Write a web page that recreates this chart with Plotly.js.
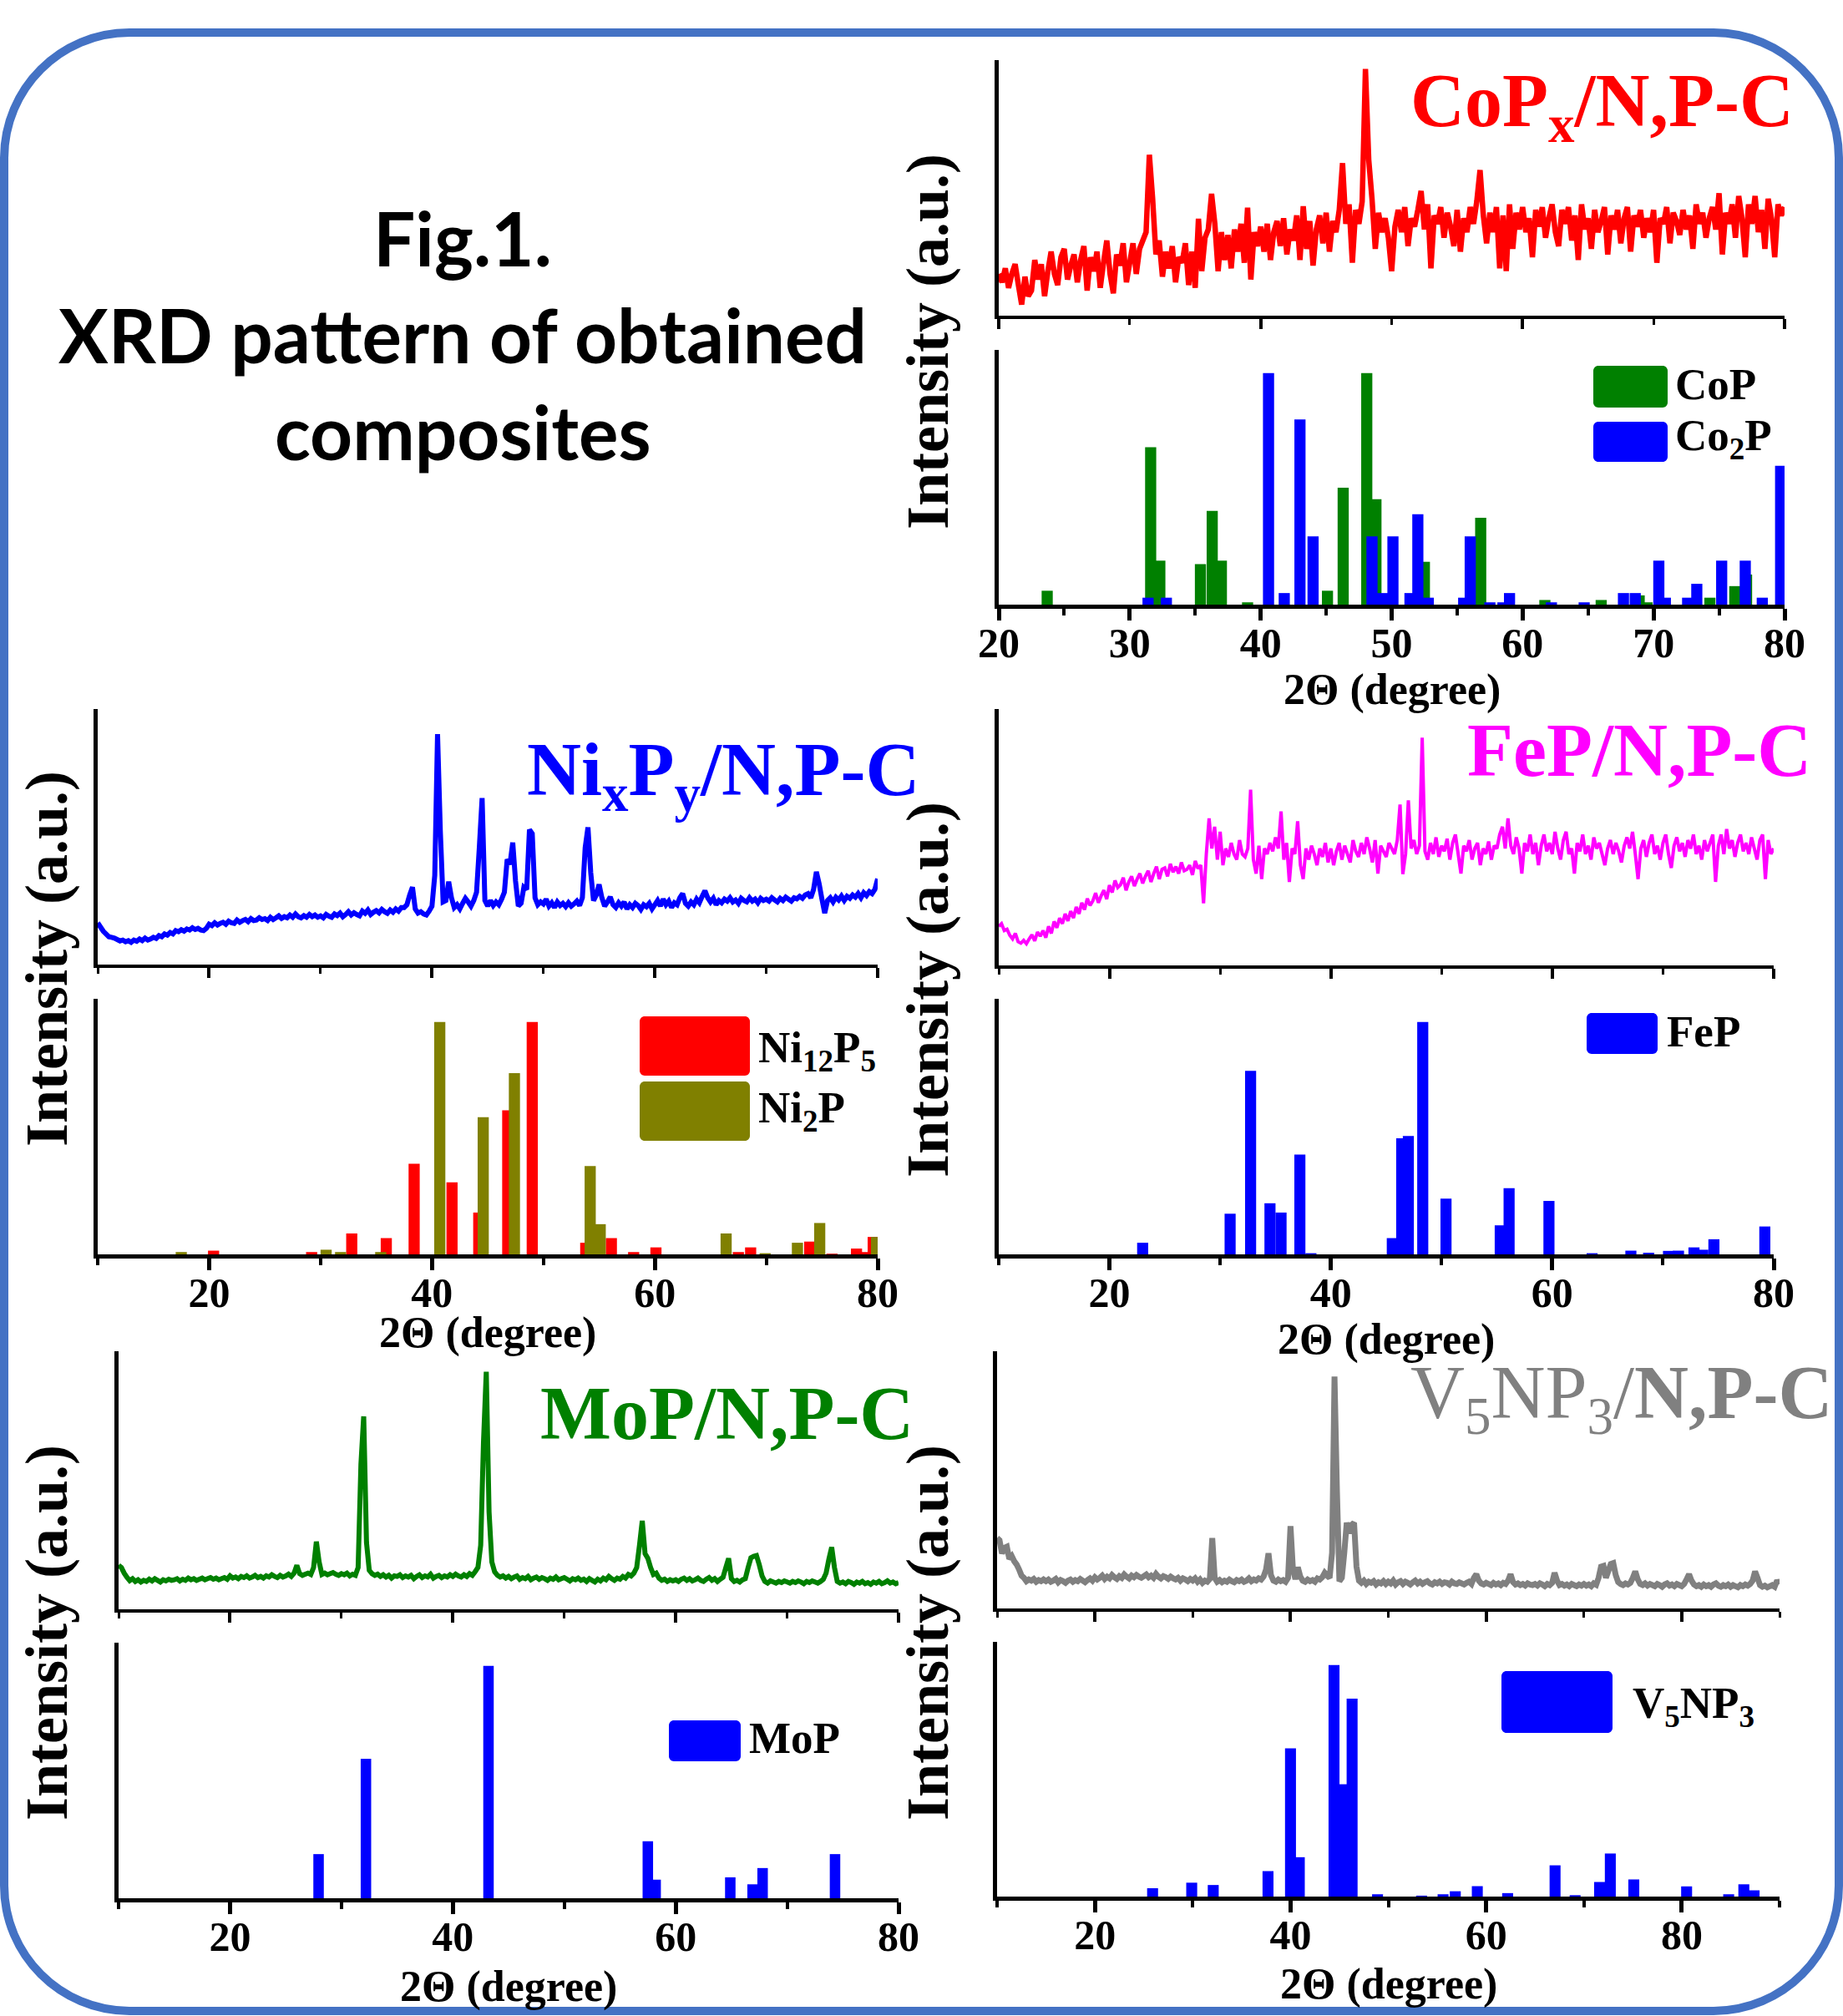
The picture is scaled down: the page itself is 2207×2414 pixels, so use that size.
<!DOCTYPE html>
<html>
<head>
<meta charset="utf-8">
<script src="https://cdn.plot.ly/plotly-3.0.1.min.js"></script>
<style>html,body{margin:0;padding:0;background:#fff;}</style>
</head>
<body>
<div id="chart" style="width:2207px;height:2414px;"></div>
<script>
// ---------------- DATA ----------------
// Measured XRD patterns: intensities (a.u.) sampled every 0.25 degree
const curve_step = 0.25;

const copx_start = 20;
const copx_intensity = [
 150,120,170,100,150,185,110,40,140,70,90,200,130,185,70,160,230,150,110,210,
 240,130,180,220,120,200,250,90,210,160,230,100,190,270,150,80,220,180,260,120,
 190,260,150,240,270,300,578,420,220,270,140,230,170,250,120,210,190,260,110,230,
 100,348,160,280,310,438,330,160,300,200,290,170,310,230,330,190,388,130,300,250,
 320,230,330,200,300,340,250,350,220,310,270,360,200,393,240,340,180,310,360,260,
 370,230,340,300,380,548,330,400,190,380,330,410,886,560,420,240,370,300,350,280,
 160,320,380,300,390,250,350,320,380,448,310,400,170,360,330,390,280,370,320,250,
 380,230,350,300,390,330,410,523,360,260,370,300,390,170,360,160,400,240,370,310,
 390,300,350,210,380,320,390,280,350,400,300,250,380,330,390,270,360,200,400,310,
 350,240,380,300,340,390,220,360,310,380,260,350,390,230,360,320,380,280,350,300,
 380,190,350,330,390,260,370,340,290,380,310,360,240,400,330,370,280,350,390,310,
 440,220,370,330,400,280,430,350,210,400,330,430,300,380,240,420,350,210,400,360,390
];

const nixpy_start = 10;
const nixpy_intensity = [
 150,135,120,110,100,98,95,90,85,88,82,86,80,88,84,92,86,95,88,92,
 98,94,104,100,110,106,115,110,122,118,125,120,128,124,132,126,130,124,122,130,
 145,140,150,142,148,152,145,156,150,148,160,152,158,162,154,165,158,160,168,162,
 165,158,170,162,168,175,166,172,168,178,170,182,172,168,176,170,180,172,178,170,
 175,168,180,174,170,182,176,185,172,180,190,178,186,180,175,192,184,196,180,188,
 194,186,198,190,184,196,188,200,192,205,205,215,250,278,200,185,190,182,178,192,
 210,320,828,480,225,230,298,240,205,215,200,220,238,225,210,230,260,420,598,230,
 210,230,212,225,215,235,260,378,360,438,300,210,220,278,270,485,470,240,215,225,
 218,235,210,222,205,225,212,220,208,222,210,218,228,212,240,420,493,330,230,250,
 288,240,210,225,243,215,205,222,210,225,200,215,205,220,212,198,215,208,220,200,
 215,230,210,235,215,228,205,222,215,240,255,220,210,225,215,235,222,245,265,240,
 225,238,215,230,222,235,228,240,225,232,220,238,230,225,240,228,235,222,238,230,
 235,228,240,232,225,238,230,242,235,228,240,236,245,238,250,255,240,270,333,290,
 235,185,230,240,225,242,232,246,230,245,238,250,242,255,240,258,248,262,255,270,308
];

const fep_start = 10;
const fep_intensity = [
 140,150,125,130,108,95,115,85,80,90,78,95,110,88,120,105,125,100,140,115,
 158,135,170,150,185,160,195,170,210,185,225,200,240,215,232,260,225,250,270,238,
 288,262,305,280,290,315,270,300,320,285,310,330,295,320,340,300,330,355,310,345,
 350,320,365,335,355,330,370,340,345,360,325,375,348,360,223,400,528,420,498,380,
 480,360,420,390,440,400,380,450,400,390,420,631,380,330,430,310,420,400,440,410,
 460,420,553,380,440,300,420,400,518,360,310,420,380,430,400,360,420,390,440,370,
 420,360,410,440,380,430,400,370,450,410,390,440,400,460,420,370,450,330,430,410,
 390,440,420,400,450,578,328,400,593,420,450,400,430,818,410,380,440,400,460,390,
 430,410,455,380,440,470,400,330,430,410,450,380,420,440,360,420,400,445,380,430,
 420,470,498,420,528,430,400,460,420,330,440,410,470,400,440,360,430,470,410,440,
 400,480,420,380,450,480,400,420,330,440,410,470,400,430,380,460,420,440,400,360,
 420,450,400,440,410,370,430,460,420,480,400,310,420,450,390,440,470,400,430,380,
 440,470,400,350,430,460,410,440,390,450,420,470,400,430,380,450,410,440,470,300,
 430,470,400,490,420,450,390,440,470,410,440,400,460,420,380,450,470,310,450,400,420
];

const mop_start = 10;
const mop_intensity = [
 158,150,130,115,103,110,100,106,98,104,100,108,102,110,104,98,106,102,108,104,
 106,110,102,108,104,112,106,110,104,108,112,106,110,114,108,112,106,110,114,108,
 120,112,116,110,118,114,120,112,116,122,114,118,112,120,116,124,118,114,122,116,
 120,126,118,130,158,128,122,126,130,125,150,243,170,125,130,124,128,132,126,122,
 128,124,130,120,126,122,150,520,693,240,140,128,122,126,118,124,116,122,112,120,
 118,124,114,120,116,122,110,118,124,114,120,116,126,112,118,122,114,120,116,124,
 118,126,120,116,124,118,128,122,135,150,230,600,853,350,170,135,122,116,120,112,
 118,110,116,120,108,114,110,118,106,112,116,108,114,110,104,112,108,116,106,110,
 114,108,102,110,106,112,104,108,100,110,104,98,108,102,112,106,118,110,104,112,
 108,118,112,125,120,130,150,230,318,200,183,150,125,130,112,104,108,100,106,102,
 106,100,108,112,104,110,102,106,112,104,100,108,114,104,110,100,108,115,150,183,
 110,100,104,98,106,110,150,185,190,193,160,120,100,94,102,98,94,100,96,102,
 98,94,100,96,102,98,92,100,96,102,98,94,100,108,130,180,223,150,100,94,
 98,92,100,96,90,98,94,100,92,96,90,98,94,100,92,96,102,94,98,92,96
];

const v5np3_start = 10;
const v5np3_intensity = [
 253,245,198,218,222,178,188,170,158,140,118,110,98,104,100,106,96,102,98,104,
 98,104,96,100,106,94,102,98,92,100,104,96,102,98,106,100,94,102,108,100,
 112,104,110,118,106,114,108,120,112,106,116,110,122,114,108,118,112,120,114,110,
 116,122,112,118,110,124,114,108,116,112,106,114,108,104,110,100,108,104,98,106,
 100,108,96,104,92,100,96,106,253,110,96,102,94,100,96,104,98,94,102,98,
 104,96,100,108,98,104,100,108,104,115,140,198,120,100,96,104,98,102,96,110,
 296,140,105,148,115,100,96,104,98,102,96,108,104,112,128,118,110,200,833,420,
 98,110,200,308,270,300,308,150,100,92,100,88,96,92,98,86,94,90,98,88,
 96,90,100,86,94,98,88,96,92,86,94,100,90,96,88,94,98,90,86,94,
 90,96,88,94,92,86,96,90,88,94,90,86,92,96,88,110,123,100,90,86,
 92,88,84,92,86,90,84,92,88,100,123,95,86,90,84,88,82,90,86,84,
 88,82,90,86,80,88,84,92,128,100,84,88,82,86,80,88,84,80,86,82,
 88,82,86,80,90,85,110,150,153,110,135,160,163,120,95,88,84,90,86,92,
 110,133,105,88,84,90,82,88,84,80,88,84,78,86,90,82,86,80,88,84,
 80,88,105,123,100,86,80,84,78,86,80,84,78,86,90,82,78,84,80,86,
 78,84,80,76,84,80,86,82,88,100,133,110,84,78,82,76,80,84,78,100,88
];

// Reference patterns: 2Theta positions and relative intensities
const cop_ref_pos = [23.7,31.6,32.3,35.4,36.3,37.0,39.0,45.1,46.3,48.1,48.8,52.5,56.8,61.7,66.0,68.9,69.5,74.3,76.2,77.1];
const cop_ref_int = [0.06,0.68,0.19,0.175,0.405,0.19,0.01,0.06,0.505,1.0,0.455,0.185,0.375,0.02,0.02,0.04,0.01,0.03,0.08,0.13];

const co2p_ref_pos = [31.4,32.8,40.6,41.8,43.0,44.0,48.5,49.3,50.1,51.4,52.0,52.8,55.5,56.0,57.5,58.5,59.0,62.2,64.7,67.7,68.6,70.4,70.9,72.6,73.3,75.2,77.0,78.3,79.7];
const co2p_ref_int = [0.03,0.03,1.0,0.05,0.80,0.295,0.295,0.05,0.295,0.05,0.39,0.03,0.03,0.295,0.01,0.01,0.05,0.01,0.01,0.05,0.05,0.19,0.03,0.03,0.09,0.19,0.19,0.03,0.6];

const ni12p5_ref_pos = [20.4,29.2,32.8,35.9,38.4,41.8,44.2,46.8,49.0,53.8,56.1,58.1,60.1,67.5,68.6,73.9,75.9,78.1,78.9,79.6];
const ni12p5_ref_int = [0.016,0.01,0.09,0.07,0.39,0.31,0.18,0.62,1.0,0.05,0.07,0.01,0.03,0.01,0.03,0.055,0.003,0.025,0.01,0.075];

const ni2p_ref_pos = [17.5,30.5,31.8,35.4,40.7,44.6,47.4,54.2,55.1,66.4,69.9,72.8,74.8,79.9];
const ni2p_ref_int = [0.01,0.02,0.01,0.01,1.0,0.59,0.78,0.38,0.13,0.09,0.005,0.05,0.135,0.075];

const fep_ref_pos = [23.0,30.9,32.75,34.5,35.5,37.2,38.2,45.55,46.4,47.0,48.3,50.4,55.3,56.1,59.7,63.6,67.1,68.7,70.5,71.4,72.8,73.6,74.6,79.2];
const fep_ref_int = [0.05,0.175,0.79,0.22,0.18,0.43,0.005,0.07,0.50,0.51,1.0,0.24,0.125,0.285,0.23,0.005,0.016,0.007,0.015,0.016,0.03,0.02,0.065,0.12];

const mop_ref_pos = [27.95,32.2,43.2,57.5,58.2,64.9,66.9,67.8,74.3];
const mop_ref_int = [0.19,0.60,1.0,0.245,0.08,0.09,0.06,0.13,0.19];

const v5np3_ref_pos = [25.9,29.9,32.1,37.7,40.0,40.9,44.45,45.35,46.3,48.9,53.4,55.6,56.85,59.1,62.2,67.05,69.1,71.6,72.7,75.1,80.5,84.8,86.35,87.4];
const v5np3_ref_int = [0.036,0.06,0.05,0.11,0.64,0.17,1.0,0.485,0.855,0.01,0.004,0.01,0.023,0.045,0.015,0.135,0.006,0.063,0.186,0.074,0.044,0.01,0.053,0.027];

// Text
const panel_titles = ['CoP<sub>x</sub>/N,P-C','Ni<sub>x</sub>P<sub>y</sub>/N,P-C','FeP/N,P-C','MoP/N,P-C','V<sub>5</sub>NP<sub>3</sub>/<b>N,P-C</b>'];
const x_title = '2\u0398 (degree)';
const y_title = 'Intensity (a.u.)';
const fig_title_lines = ['Fig.1.','XRD pattern of obtained','composites'];

// ---------------- LAYOUT / STYLE ----------------
const W = 2207, H = 2414;
const PX = v => v / W;
const PY = v => 1 - v / H;
const SERIF = 'Liberation Serif';

const panels = [
  {x:[1196,2137], top:[72,378],   bot:[419,724],   range:[20,80], botDtick:10, botMinor:5,  curve:copx_intensity,  start:copx_start,  color:'#FF0000', lw:6.5,
   title:{x:1687,y:128,color:'#FF0000',bold:true}, xt:826},
  {x:[117,1051],  top:[849,1155], bot:[1196,1502], range:[10,80], botDtick:20, botMinor:10, curve:nixpy_intensity, start:nixpy_start, color:'#0000FF', lw:6,
   title:{x:629,y:928,color:'#0000FF',bold:true}, xt:1596},
  {x:[1196,2124], top:[849,1156], bot:[1196,1502], range:[10,80], botDtick:20, botMinor:10, curve:fep_intensity,   start:fep_start,   color:'#FF00FF', lw:4,
   title:{x:1755,y:898,color:'#FF00FF',bold:true}, xt:1604},
  {x:[142,1076],  top:[1618,1927],bot:[1967,2273], range:[10,80], botDtick:20, botMinor:10, curve:mop_intensity,   start:mop_start,   color:'#008000', lw:6,
   title:{x:645,y:1692,color:'#008000',bold:true}, xt:2379},
  {x:[1194,2131], top:[1618,1926],bot:[1966,2271], range:[10,90], botDtick:20, botMinor:10, curve:v5np3_intensity, start:v5np3_start, color:'#808080', lw:7,
   title:{x:1687,y:1674,color:'#808080',bold:false}, xt:2376}
];

const refSets = [
  [{pos:cop_ref_pos, val:cop_ref_int, color:'#008000', w:0.85},{pos:co2p_ref_pos, val:co2p_ref_int, color:'#0000FF', w:0.85}],
  [{pos:ni12p5_ref_pos, val:ni12p5_ref_int, color:'#FF0000', w:1.0},{pos:ni2p_ref_pos, val:ni2p_ref_int, color:'#808000', w:1.0}],
  [{pos:fep_ref_pos, val:fep_ref_int, color:'#0000FF', w:1.0}],
  [{pos:mop_ref_pos, val:mop_ref_int, color:'#0000FF', w:0.94}],
  [{pos:v5np3_ref_pos, val:v5np3_ref_int, color:'#0000FF', w:1.12}]
];

const tickFont = {family:SERIF, size:50, color:'#000', weight:'bold'};
const traces = [];
const layout = {
  width:W, height:H, margin:{l:0,r:0,t:0,b:0}, paper_bgcolor:'#fff', plot_bgcolor:'rgba(0,0,0,0)',
  showlegend:false, barmode:'overlay', annotations:[], shapes:[]
};

panels.forEach((p, i) => {
  const nTop = 2*i + 1, nBot = 2*i + 2;
  const xt = nTop === 1 ? 'x' : 'x' + nTop, yt = nTop === 1 ? 'y' : 'y' + nTop;
  const xb = 'x' + nBot, yb = 'y' + nBot;
  const xkT = nTop === 1 ? 'xaxis' : 'xaxis' + nTop, ykT = nTop === 1 ? 'yaxis' : 'yaxis' + nTop;
  const xkB = 'xaxis' + nBot, ykB = 'yaxis' + nBot;
  const dom = [PX(p.x[0]), PX(p.x[1])];
  const common = {showgrid:false, zeroline:false, showline:true, linecolor:'#000'};

  layout[xkT] = Object.assign({}, common, {domain:dom, anchor:yt, range:p.range, linewidth:4,
    ticks:'outside', ticklen:12, tickwidth:4, tickcolor:'#000', tick0:0, dtick:20, showticklabels:false,
    minor:{ticks:'outside', ticklen:7, tickwidth:3, tickcolor:'#000', dtick:10, showgrid:false}});
  layout[ykT] = Object.assign({}, common, {domain:[PY(p.top[1]), PY(p.top[0])], anchor:xt,
    range:[0, 3*(p.top[1]-p.top[0])], linewidth:5, ticks:'', showticklabels:false});

  layout[xkB] = Object.assign({}, common, {domain:dom, anchor:yb, range:p.range, linewidth:5,
    ticks:'outside', ticklen:14, tickwidth:5, tickcolor:'#000', tick0:0, dtick:p.botDtick,
    showticklabels:true, tickfont:tickFont, ticklabelstandoff:-16,
    minor:{ticks:'outside', ticklen:8, tickwidth:4, tickcolor:'#000', dtick:p.botMinor, showgrid:false}});
  layout[ykB] = Object.assign({}, common, {domain:[PY(p.bot[1]), PY(p.bot[0])], anchor:xb,
    range:[0, 1.1], linewidth:5, ticks:'', showticklabels:false});

  traces.push({type:'scatter', mode:'lines', x0:p.start, dx:curve_step, y:p.curve,
    xaxis:xt, yaxis:yt, line:{color:p.color, width:p.lw, simplify:false}, cliponaxis:true, hoverinfo:'skip'});

  refSets[i].forEach(r => {
    traces.push({type:'bar', x:r.pos, y:r.val, width:r.w, xaxis:xb, yaxis:yb,
      marker:{color:r.color, line:{width:0}}, hoverinfo:'skip'});
  });

  layout.annotations.push({xref:'paper', yref:'paper', x:PX(p.title.x), y:PY(p.title.y),
    xanchor:'left', yanchor:'middle', showarrow:false, text:panel_titles[i],
    font:{family:SERIF, size:90, color:p.title.color, weight:p.title.bold ? 'bold' : 'normal'}});

  // x-axis title (2Theta) under the bottom axis
  layout.annotations.push({xref:'paper', yref:'paper', x:PX((p.x[0]+p.x[1])/2), y:PY(p.xt),
    xanchor:'center', yanchor:'middle', showarrow:false, text:x_title,
    font:{family:SERIF, size:52, color:'#000', weight:'bold'}});
});

// Intensity labels
[[1111,409],[1111,1185],[1111,1955],[56,1148],[56,1955]].forEach(c => {
  layout.annotations.push({xref:'paper', yref:'paper', x:PX(c[0]), y:PY(c[1]), xanchor:'center', yanchor:'middle',
    showarrow:false, textangle:-90, text:y_title, font:{family:SERIF, size:72, color:'#000', weight:'bold'}});
});

// Rounded rectangle path in paper coordinates (pixel inputs)
function roundRectPath(L, T, R, B, r) {
  const k = 0.5523 * r;
  const P = (x,y) => PX(x).toFixed(5) + ',' + PY(y).toFixed(5);
  return 'M' + P(L+r,T) + ' L' + P(R-r,T) +
    ' C' + P(R-r+k,T) + ' ' + P(R,T+r-k) + ' ' + P(R,T+r) +
    ' L' + P(R,B-r) +
    ' C' + P(R,B-r+k) + ' ' + P(R-r+k,B) + ' ' + P(R-r,B) +
    ' L' + P(L+r,B) +
    ' C' + P(L+r-k,B) + ' ' + P(L,B-r+k) + ' ' + P(L,B-r) +
    ' L' + P(L,T+r) +
    ' C' + P(L,T+r-k) + ' ' + P(L+r-k,T) + ' ' + P(L+r,T) + ' Z';
}

// Legend swatches and labels
const legendItems = [
  {box:[1908,438,1997,488],  color:'#008000', text:'CoP', tx:2004, ty:460},
  {box:[1908,505,1997,553],  color:'#0000FF', text:'Co<sub>2</sub>P', tx:2004, ty:525},
  {box:[766,1217,898,1288],  color:'#FF0000', text:'Ni<sub>12</sub>P<sub>5</sub>', tx:906, ty:1258},
  {box:[766,1295,898,1366],  color:'#808000', text:'Ni<sub>2</sub>P', tx:906, ty:1330},
  {box:[1900,1213,1985,1262],color:'#0000FF', text:'FeP', tx:1994, ty:1235},
  {box:[801,2060,887,2109],  color:'#0000FF', text:'MoP', tx:895, ty:2081},
  {box:[1798,2001,1931,2075],color:'#0000FF', text:'V<sub>5</sub>NP<sub>3</sub>', tx:1953, ty:2043}
];
legendItems.forEach(it => {
  layout.shapes.push({type:'path', xref:'paper', yref:'paper',
    path:roundRectPath(it.box[0], it.box[1], it.box[2], it.box[3], 6),
    fillcolor:it.color, line:{width:0}, layer:'above'});
  layout.annotations.push({xref:'paper', yref:'paper', x:PX(it.tx), y:PY(it.ty), xanchor:'left', yanchor:'middle',
    showarrow:false, text:it.text, font:{family:SERIF, size:53, color:'#000', weight:'bold'}});
});

// Figure caption on the left
[[554,284],[554,400],[554,516]].forEach((c, k) => {
  layout.annotations.push({xref:'paper', yref:'paper', x:PX(c[0]), y:PY(c[1]), xanchor:'center', yanchor:'middle',
    showarrow:false, text:fig_title_lines[k], font:{family:'Lato', size:89, color:'#000', weight:'bold'}});
});

// Rounded blue frame
layout.shapes.push({type:'path', xref:'paper', yref:'paper', path:roundRectPath(5, 39, 2202, 2408, 150),
  line:{color:'#4472C4', width:10}, fillcolor:'rgba(0,0,0,0)', layer:'above'});

Plotly.newPlot('chart', traces, layout, {staticPlot:true, displayModeBar:false});
</script>
</body>
</html>
